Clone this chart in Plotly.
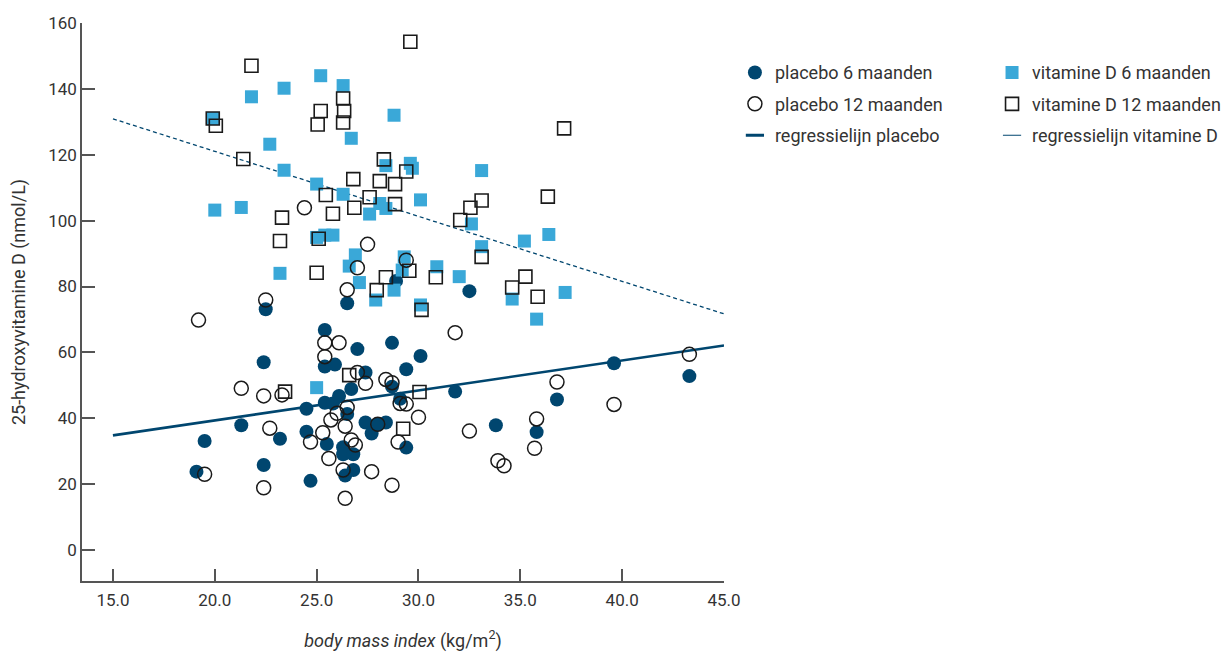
import plotly.graph_objects as go

# ---------------- data ----------------
placebo6_bmi = [19.1, 19.5, 21.3, 22.5, 22.4, 22.4, 23.2, 24.5, 24.5, 24.7,
                25.4, 25.4, 25.4, 25.5, 25.9, 25.8, 26.1, 26.5, 26.5, 26.7,
                27.0, 27.4, 27.4, 27.7, 28.0, 28.4, 26.3, 26.3, 26.8, 26.4,
                26.8, 28.9, 28.7, 30.1, 29.4, 29.1, 28.7, 29.4, 31.8, 32.5,
                33.8, 35.8, 36.8, 39.6, 43.3]
placebo6_vitd = [23.8, 33.1, 37.9, 73.1, 57.0, 25.8, 33.8, 42.9, 35.9, 21.0,
                 66.8, 55.7, 44.7, 32.2, 56.3, 44.5, 46.8, 74.9, 41.3, 48.9,
                 61.0, 53.9, 38.7, 35.4, 38.2, 38.7, 31.2, 29.1, 29.1, 22.6,
                 24.3, 81.7, 62.9, 58.9, 54.9, 45.9, 49.6, 31.1, 48.1, 78.6,
                 37.9, 35.8, 45.7, 56.7, 52.8]

placebo12_bmi = [19.2, 19.5, 21.3, 22.4, 22.5, 22.7, 22.4, 23.3, 24.4, 24.7,
                 25.3, 25.4, 25.4, 25.6, 25.7, 26.0, 26.1, 26.3, 26.4, 26.4,
                 26.5, 26.5, 26.7, 26.9, 27.0, 27.0, 27.5, 27.4, 27.7, 28.0,
                 28.4, 28.7, 28.7, 29.0, 29.1, 29.4, 29.4, 30.0, 31.8, 32.5,
                 33.9, 34.2, 35.7, 35.8, 36.8, 39.6, 43.3]
placebo12_vitd = [69.8, 23.0, 49.1, 46.8, 75.9, 37.0, 18.9, 47.1, 103.9, 32.8,
                  35.6, 62.9, 58.7, 27.8, 39.5, 41.5, 62.9, 24.3, 15.7, 37.6,
                  43.3, 79.0, 33.4, 31.9, 85.7, 53.9, 92.8, 50.6, 23.8, 38.2,
                  51.8, 50.8, 19.7, 32.8, 44.5, 44.3, 88.0, 40.3, 66.0, 36.1,
                  27.1, 25.6, 30.9, 39.8, 51.0, 44.2, 59.4]

vitd6_bmi = [19.9, 21.8, 23.4, 25.2, 26.3, 28.8, 22.7, 23.4, 26.7, 20.0,
             21.3, 25.0, 26.3, 27.6, 28.1, 28.4, 28.4, 29.6, 29.7, 30.1,
             33.1, 32.6, 23.2, 25.0, 25.4, 25.8, 26.9, 26.6, 27.1, 27.9,
             28.8, 29.3, 29.2, 30.1, 36.4, 35.2, 33.1, 30.9, 32.0, 34.6,
             37.2, 35.8, 25.0]
vitd6_vitd = [131.0, 137.6, 140.2, 144.0, 141.0, 132.0, 123.2, 115.3, 125.0, 103.2,
              104.0, 111.1, 108.0, 102.0, 105.2, 103.7, 116.7, 117.4, 115.9, 106.3,
              115.2, 99.0, 84.0, 94.9, 95.6, 95.6, 89.6, 86.2, 81.2, 75.9,
              78.9, 89.0, 85.0, 74.4, 95.8, 93.8, 92.1, 86.0, 83.0, 76.2,
              78.2, 70.1, 49.3]

vitd12_bmi = [21.8, 19.9, 20.05, 21.4, 25.2, 25.05, 26.3, 26.35, 26.3, 28.3,
              26.8, 28.1, 28.85, 29.4, 25.45, 27.6, 26.85, 28.85, 25.8, 23.3,
              23.2, 25.1, 25.0, 28.4, 27.95, 29.55, 30.15, 29.6, 37.15, 33.1,
              32.55, 32.05, 36.35, 33.1, 30.85, 35.25, 34.6, 35.85, 26.6, 23.45,
              30.05, 29.25]
vitd12_vitd = [147.0, 131.0, 128.8, 118.7, 133.3, 129.2, 137.1, 133.3, 129.8, 118.6,
               112.6, 112.0, 111.1, 114.9, 107.8, 107.1, 103.9, 105.0, 102.1, 100.9,
               93.8, 94.5, 84.2, 82.8, 78.9, 84.8, 72.9, 154.3, 128.0, 106.1,
               103.9, 100.2, 107.3, 89.0, 82.8, 83.0, 79.7, 76.9, 53.1, 48.1,
               48.0, 36.8]

reg_bmi = [15.0, 45.0]
reg_placebo = [34.8, 62.1]
reg_vitd = [130.9, 71.7]

x_ticks = [15, 20, 25, 30, 35, 40, 45]
x_ticklabels = ["15.0", "20.0", "25.0", "30.0", "35.0", "40.0", "45.0"]
y_ticks = [0, 20, 40, 60, 80, 100, 120, 140, 160]

# ---------------- styling ----------------
NAVY = "#00466F"
LIGHT = "#3AA8D8"
OUTLINE = "#1a1a1a"
AXIS = "#555555"
TEXT = "#333333"
FONT = "Roboto"

fig = go.Figure()

# regression lines (drawn beneath markers)
fig.add_trace(go.Scatter(x=reg_bmi, y=reg_placebo, mode="lines",
                         line=dict(color=NAVY, width=2.6), showlegend=False,
                         hoverinfo="skip"))
fig.add_trace(go.Scatter(x=reg_bmi, y=reg_vitd, mode="lines",
                         line=dict(color=NAVY, width=1.3, dash="4px,3px"),
                         showlegend=False, hoverinfo="skip"))

fig.add_trace(go.Scatter(x=placebo6_bmi, y=placebo6_vitd, mode="markers",
                         name="placebo 6 maanden", legend="legend",
                         legendgroup="a",
                         marker=dict(symbol="circle", size=14, color=NAVY,
                                     line=dict(width=0))))
fig.add_trace(go.Scatter(x=vitd6_bmi, y=vitd6_vitd, mode="markers",
                         name="vitamine D 6 maanden", legend="legend2",
                         legendgroup="d",
                         marker=dict(symbol="square", size=13, color=LIGHT,
                                     line=dict(width=0))))
fig.add_trace(go.Scatter(x=placebo12_bmi, y=placebo12_vitd, mode="markers",
                         name="placebo 12 maanden", legend="legend",
                         legendgroup="b",
                         marker=dict(symbol="circle-open", size=14,
                                     color=OUTLINE, line=dict(width=1.5))))
fig.add_trace(go.Scatter(x=vitd12_bmi, y=vitd12_vitd, mode="markers",
                         name="vitamine D 12 maanden", legend="legend2",
                         legendgroup="e",
                         marker=dict(symbol="square-open", size=13,
                                     color=OUTLINE, line=dict(width=1.6))))

# legend-only entries for regression lines (short symbol as in reference)
fig.add_trace(go.Scatter(x=[None], y=[None], mode="markers",
                         name="regressielijn placebo", legend="legend",
                         legendgroup="c",
                         marker=dict(symbol="line-ew-open", size=13,
                                     color=NAVY, line=dict(width=3, color=NAVY))))
fig.add_trace(go.Scatter(x=[None], y=[None], mode="markers",
                         name="regressielijn vitamine D", legend="legend2",
                         legendgroup="f",
                         marker=dict(symbol="line-ew-open", size=13,
                                     color=NAVY, line=dict(width=1.2, color=NAVY))))

legend_common = dict(font=dict(family=FONT, size=18, color=TEXT),
                     bgcolor="rgba(0,0,0,0)", borderwidth=0,
                     traceorder="grouped", tracegroupgap=5,
                     xanchor="left", yanchor="top", itemclick=False)

# the page body adds an 8px offset, so the figure is 8px smaller than the window
fig.update_layout(
    width=1223, height=644,
    margin=dict(l=74, r=507, t=15, b=71, autoexpand=False),
    paper_bgcolor="white", plot_bgcolor="white",
    font=dict(family=FONT, size=17, color=TEXT),
    legend=dict(x=1.017, y=0.944, **legend_common),
    legend2=dict(x=1.4175, y=0.944, **legend_common),
    xaxis=dict(range=[13.48, 45.0], tickvals=x_ticks, ticktext=x_ticklabels,
               ticks="inside", ticklen=12, tickwidth=1.5, tickcolor=AXIS,
               showline=True, linecolor=AXIS, linewidth=1.5,
               showgrid=False, zeroline=False, automargin=False,
               ticklabelstandoff=3,
               tickfont=dict(family=FONT, size=17, color=TEXT),
               title=dict(text="<i>body mass index</i> (kg/m<sup>2</sup>)",
                          font=dict(family=FONT, size=18, color=TEXT),
                          standoff=31)),
    yaxis=dict(range=[-9.4, 160.0], tickvals=y_ticks,
               ticks="inside", ticklen=13, tickwidth=1.5, tickcolor=AXIS,
               showline=True, linecolor=AXIS, linewidth=1.5,
               showgrid=False, zeroline=False, automargin=False,
               tickfont=dict(family=FONT, size=17, color=TEXT),
               title=dict(text="25-hydroxyvitamine D (nmol/L)",
                          font=dict(family=FONT, size=18, color=TEXT),
                          standoff=18)),
)

fig.write_html("out.html")
